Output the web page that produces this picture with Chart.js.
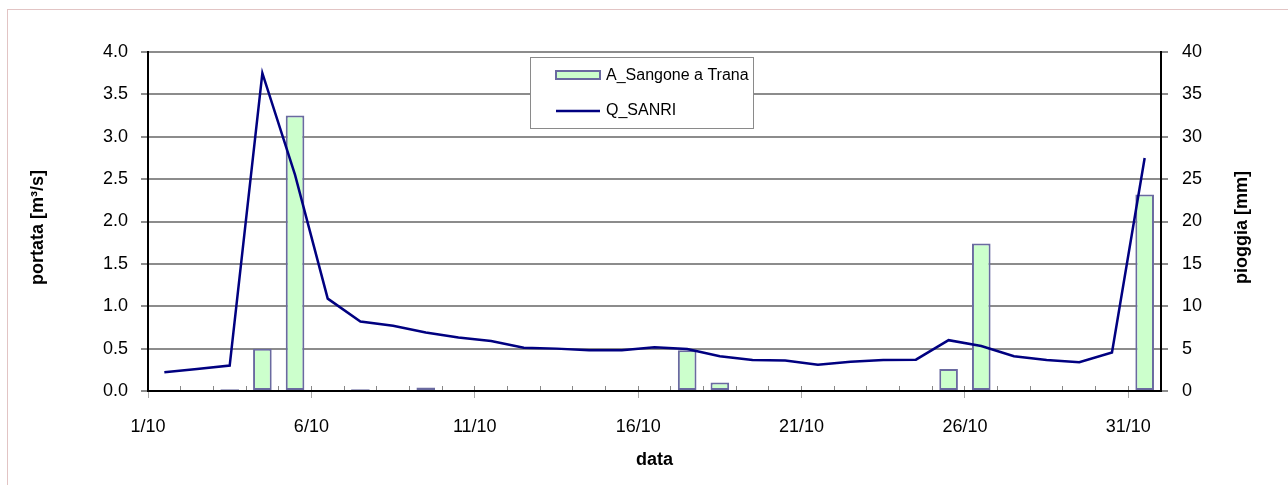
<!DOCTYPE html>
<html>
<head>
<meta charset="utf-8">
<script src="https://cdn.jsdelivr.net/npm/chart.js@4"></script>
<style>
  html, body { margin: 0; padding: 0; background: #fff; }
  #wrap { position: relative; width: 1288px; height: 485px; }
  #frame { position: absolute; left: 7px; top: 9px; right: 0; bottom: 0;
           border-top: 1px solid #e2c4c4; border-left: 1px solid #e2c4c4; }
  canvas { position: absolute; left: 0; top: 0; }
</style>
</head>
<body>
<div id="wrap">
  <div id="frame"></div>
  <canvas id="c" width="1288" height="485"></canvas>
</div>
<script>
// ---- data ----
const days = ['1/10','2/10','3/10','4/10','5/10','6/10','7/10','8/10','9/10','10/10',
              '11/10','12/10','13/10','14/10','15/10','16/10','17/10','18/10','19/10','20/10',
              '21/10','22/10','23/10','24/10','25/10','26/10','27/10','28/10','29/10','30/10','31/10'];
// rainfall A_Sangone a Trana [mm]
const rain = [0, 0, 0.2, 5.0, 32.5, 0, 0.2, 0, 0.4, 0,
              0, 0, 0, 0, 0, 0, 4.8, 1.0, 0, 0,
              0, 0, 0, 0, 2.6, 17.4, 0, 0, 0, 0, 23.2];
// discharge Q_SANRI [m3/s]
const flow = [0.22, 0.26, 0.30, 3.75, 2.55, 1.09, 0.82, 0.77, 0.69, 0.63,
              0.59, 0.51, 0.50, 0.48, 0.48, 0.515, 0.495, 0.41, 0.365, 0.36,
              0.31, 0.345, 0.365, 0.37, 0.60, 0.53, 0.41, 0.365, 0.34, 0.455, 2.75];
const leftTicks = [0, 0.5, 1, 1.5, 2, 2.5, 3, 3.5, 4];
const rightTicks = [0, 5, 10, 15, 20, 25, 30, 35, 40];
const labelEvery = 5;
const seriesNames = ['A_Sangone a Trana', 'Q_SANRI'];
const axisTitles = { x: 'data', left: 'portata [m³/s]', right: 'pioggia [mm]' };

const FONT = "'Liberation Sans', Arial, sans-serif";

const overlay = {
  id: 'overlay',
  afterDraw(chart) {
    const ctx = chart.ctx;
    const ca = chart.chartArea;
    ctx.save();
    // axis titles (rotated, reading bottom to top)
    ctx.font = "bold 18px " + FONT;
    ctx.fillStyle = '#000';
    ctx.textAlign = 'center';
    ctx.textBaseline = 'middle';
    const cy = (ca.top + ca.bottom) / 2 + 6;
    [[38, axisTitles.left], [1242, axisTitles.right]].forEach(([x, t]) => {
      ctx.save();
      ctx.translate(x, cy);
      ctx.rotate(-Math.PI / 2);
      ctx.fillText(t, 0, 0);
      ctx.restore();
    });
    // legend box
    const lx = 530.5, ly = 57.5, lw = 223, lh = 71;
    ctx.fillStyle = '#fff';
    ctx.fillRect(lx, ly, lw, lh);
    ctx.strokeStyle = '#8a8a8a';
    ctx.lineWidth = 1;
    ctx.strokeRect(lx, ly, lw, lh);
    const ds = chart.data.datasets;
    // bar swatch
    ctx.fillStyle = ds[0].backgroundColor;
    ctx.fillRect(556, 71, 44, 8);
    ctx.strokeStyle = ds[0].borderColor;
    ctx.lineWidth = 2;
    ctx.strokeRect(556, 71, 44, 8);
    // line swatch
    ctx.strokeStyle = ds[1].borderColor;
    ctx.lineWidth = 2.5;
    ctx.beginPath();
    ctx.moveTo(556, 111);
    ctx.lineTo(600, 111);
    ctx.stroke();
    ctx.font = "16px " + FONT;
    ctx.fillStyle = '#000';
    ctx.textAlign = 'left';
    ctx.textBaseline = 'middle';
    ctx.fillText(ds[0].label, 606, 76);
    ctx.fillText(ds[1].label, 606, 111);
    ctx.restore();
  }
};

new Chart(document.getElementById('c'), {
  data: {
    datasets: [
      {
        type: 'bar',
        label: seriesNames[0],
        data: rain.map((v, i) => ({ x: i + 0.5, y: v })),
        xAxisID: 'x',
        yAxisID: 'y2',
        backgroundColor: '#ccffcc',
        borderColor: '#6a6aa0',
        borderWidth: 2,
        borderSkipped: false,
        barPercentage: 0.57,
        categoryPercentage: 1.0,
        order: 2
      },
      {
        type: 'line',
        label: seriesNames[1],
        data: flow.map((v, i) => ({ x: i + 0.5, y: v })),
        xAxisID: 'x',
        yAxisID: 'y',
        borderColor: '#000080',
        backgroundColor: '#000080',
        borderWidth: 2.5,
        pointRadius: 0,
        tension: 0,
        fill: false,
        order: 1
      }
    ]
  },
  options: {
    responsive: false,
    animation: false,
    devicePixelRatio: 1,
    layout: { padding: { left: 8, right: 0, top: 52, bottom: 0 } },
    plugins: { legend: { display: false }, tooltip: { enabled: false } },
    scales: {
      x: {
        type: 'linear',
        position: 'bottom',
        offset: false,
        min: 0,
        max: days.length,
        afterFit: s => { s.height = 94; },
        afterBuildTicks: s => { s.ticks = days.map((d, i) => ({ value: i })).concat([{ value: days.length }]); },
        ticks: {
          autoSkip: false,
          maxRotation: 0,
          padding: 30,
          color: '#000',
          font: { family: FONT, size: 18 },
          callback: v => (v % labelEvery === 0 && v < days.length) ? days[v] : ''
        },
        grid: { drawOnChartArea: false, offset: false, color: '#888', tickLength: -5, lineWidth: 1 },
        border: { color: '#000', width: 2 },
        title: { display: true, text: axisTitles.x, color: '#000',
                 font: { family: FONT, size: 18, weight: 'bold' }, padding: { top: 0, bottom: 14 } }
      },
      x2: {
        type: 'linear',
        position: { y: 0 },
        offset: false,
        min: 0,
        max: days.length,
        afterBuildTicks: s => { s.ticks = days.map((d, i) => ({ value: i })).filter(t => t.value % labelEvery === 0); },
        ticks: { display: false },
        grid: { drawOnChartArea: false, offset: false, color: '#aaa', tickLength: 7, lineWidth: 1 },
        border: { display: false }
      },
      y: {
        type: 'linear',
        position: 'left',
        min: 0,
        max: 4,
        afterFit: s => { s.width = 140; },
        afterBuildTicks: s => { s.ticks = leftTicks.map(v => ({ value: v })); },
        ticks: {
          padding: 13,
          color: '#000',
          font: { family: FONT, size: 18 },
          callback: v => v.toFixed(1)
        },
        grid: { color: '#8c8c8c', lineWidth: 2, tickLength: 7 },
        border: { color: '#000', width: 2 }
      },
      y2: {
        type: 'linear',
        position: 'right',
        min: 0,
        max: 40,
        afterFit: s => { s.width = 127; },
        afterBuildTicks: s => { s.ticks = rightTicks.map(v => ({ value: v })); },
        ticks: {
          padding: 14,
          color: '#000',
          font: { family: FONT, size: 18 },
          callback: v => String(v)
        },
        grid: { drawOnChartArea: false, color: '#8c8c8c', lineWidth: 2, tickLength: 7 },
        border: { color: '#000', width: 2 }
      }
    }
  },
  plugins: [overlay]
});
</script>
</body>
</html>
